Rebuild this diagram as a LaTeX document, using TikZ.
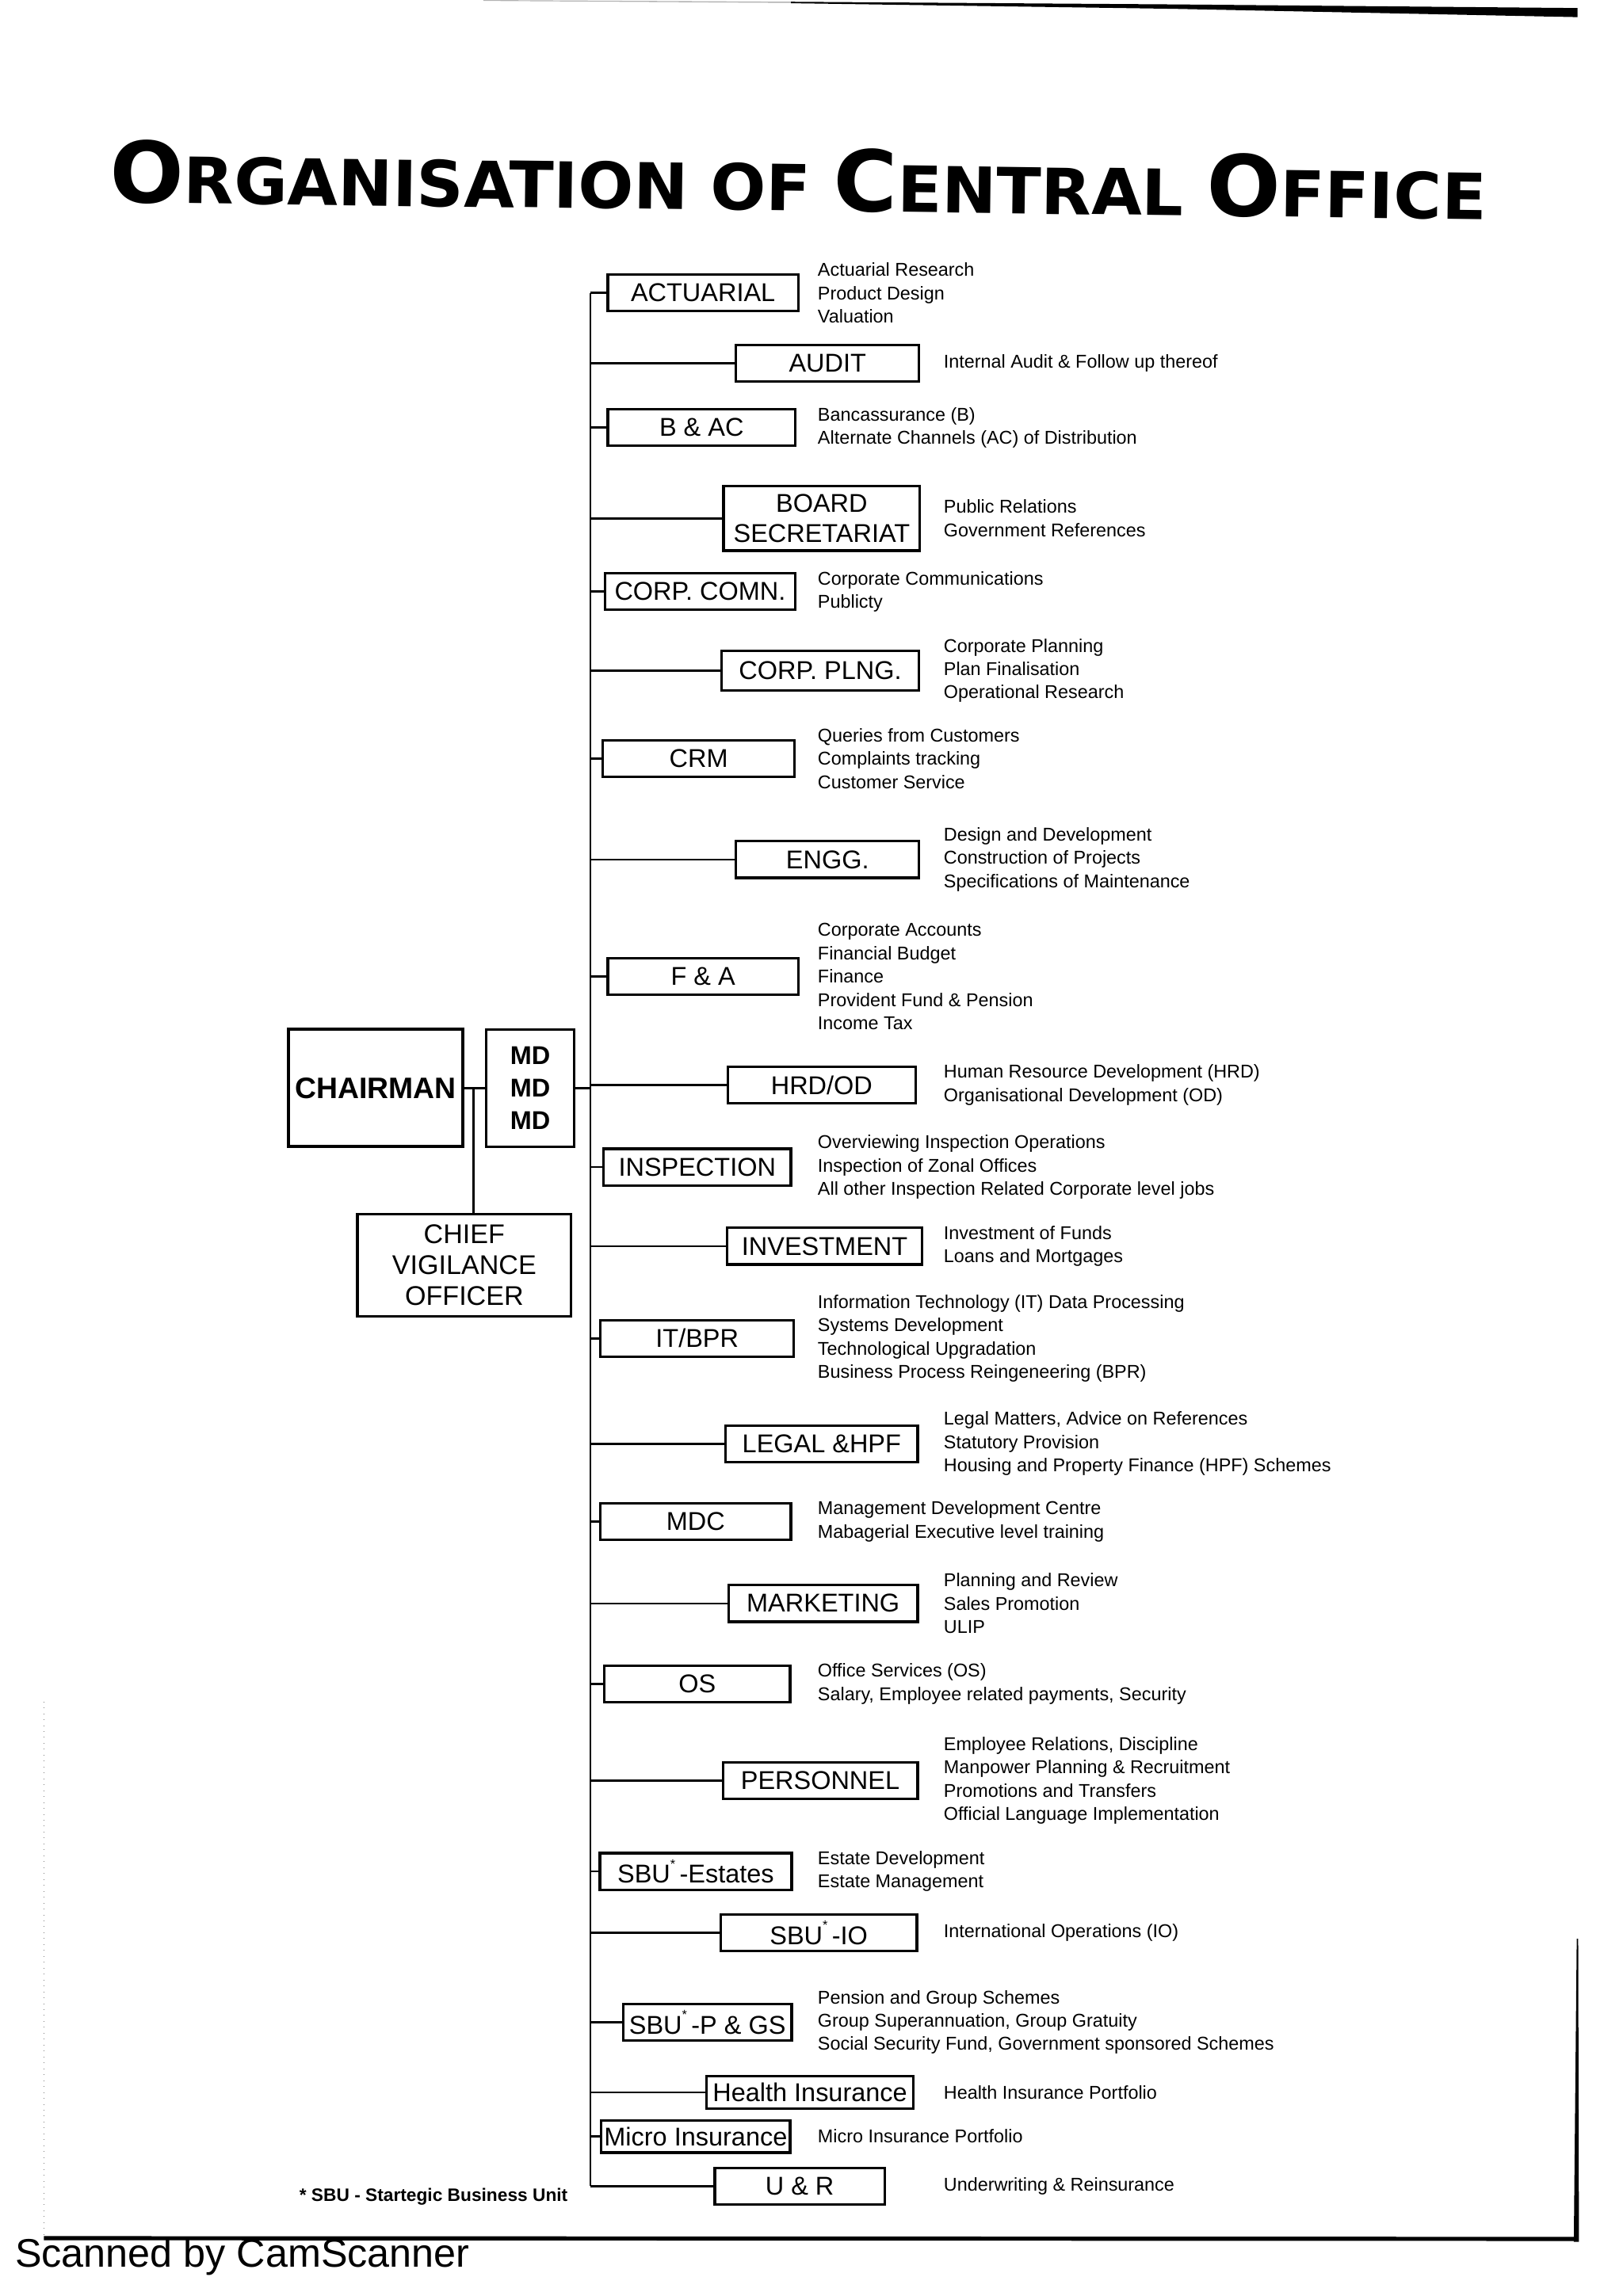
\documentclass[tikz,border=0pt]{standalone}
\usepackage{fontspec}
\setmainfont{Liberation Sans}
\newfontfamily\headfont{DejaVu Sans}
\usetikzlibrary{positioning,calc}

\tikzset{
  dept/.style={draw,line width=1pt,inner sep=1pt,minimum width=2.6cm,minimum height=0.5cm,
    font=\fontsize{10}{11}\selectfont},
  duties/.style={anchor=west,align=left,inner sep=0pt,font=\fontsize{7.2}{9.07}\selectfont},
  wire/.style={line width=0.8pt},
}
\newcommand{\bigL}[1]{{\fontsize{30}{30}\selectfont #1}}
\newcommand{\smallL}[1]{{\fontsize{22.5}{30}\selectfont #1}}
\newcommand{\sbu}{SBU\raisebox{1.1ex}{\fontsize{5}{5}\selectfont *}\,-}

\begin{document}
\begin{tikzpicture}[x=0.02cm,y=-0.02cm]
  \useasboundingbox (0,0) rectangle (1108,1568);
  % scanned page edges
  \fill[gray!60] (330,0) -- (540,1.2) -- (540,2) -- (330,0.6) -- cycle;
  \fill (540,1.2) -- (800,3) -- (1077,5.5) -- (1077,11.7) -- (800,6) -- (540,2.2) -- cycle;
  \draw[line width=0.3pt,gray,dotted] (30,1162) -- (30,1527);
  \fill (1076.5,1324) -- (1077.5,1324) -- (1078,1531) -- (1074.5,1531) -- cycle;
  \draw[line width=1.6pt] (30,1528.5) -- (1077,1529);
  \node[anchor=base west,inner sep=0pt,font=\fontsize{15.5}{15.5}\selectfont] (scan) at (10,1548) {Scanned by CamScanner};

  % title
  \node[rotate=-0.7,inner sep=0pt] (title) at (545,123)
    {\resizebox{18.8cm}{0.86cm}{\headfont\bfseries\bigL{O}\smallL{RGANISATION OF }\bigL{C}\smallL{ENTRAL }\bigL{O}\smallL{FFICE}}};

  % top management
  \node[draw,line width=1.3pt,inner sep=1pt,minimum width=2.38cm,minimum height=1.6cm,
    font=\bfseries\fontsize{11.5}{12}\selectfont] (chairman) at (256.5,743) {CHAIRMAN};
  \node[draw,line width=1pt,minimum width=1.2cm,minimum height=1.6cm,align=center,
    font=\bfseries\fontsize{10}{12.75}\selectfont] (md) at (362,743) {MD\\MD\\MD};
  \node[draw,line width=1pt,minimum width=2.92cm,minimum height=1.4cm,align=center,
    font=\fontsize{10.5}{11.9}\selectfont] (cvo) at (317,864) {CHIEF\\VIGILANCE\\OFFICER};
  \coordinate (split) at ($(chairman.east)!0.44!(md.west)$);
  \draw[wire] (chairman.east) -- (md.west);
  \draw[wire] (split) -- (split |- cvo.north);

  \coordinate (trunk) at (403,0);
  \coordinate (lcol) at (558,0);
  \coordinate (rcol) at (644,0);
  \draw[wire] (md.east) -- (md.east -| trunk);

  % departments
  \node[dept] (actuarial) at (480,200) {ACTUARIAL};
  \node[duties] (actuarial-t) at (actuarial.east -| lcol) {Actuarial Research\\Product Design\\Valuation};
  \node[dept,minimum width=2.5cm] (audit) at (565,248) {AUDIT};
  \node[duties] (audit-t) at (audit.east -| rcol) {Internal Audit \& Follow up thereof};
  \node[dept,minimum width=2.56cm] (bac) at (479,292) {B \& AC};
  \node[duties] (bac-t) at (bac.east -| lcol) {Bancassurance (B)\\Alternate Channels (AC) of Distribution};
  \node[dept,minimum width=2.68cm,minimum height=0.88cm,align=center,font=\fontsize{10}{11.5}\selectfont] (board) at (561,354) {BOARD\\SECRETARIAT};
  \node[duties] (board-t) at (board.east -| rcol) {Public Relations\\Government References};
  \node[dept] (comn) at (478,404) {CORP. COMN.};
  \node[duties] (comn-t) at (comn.east -| lcol) {Corporate Communications\\Publicty};
  \node[dept,minimum width=2.7cm,minimum height=0.54cm] (plng) at (560,458) {CORP. PLNG.};
  \node[duties] (plng-t) at (plng.east -| rcol) {Corporate Planning\\Plan Finalisation\\Operational Research};
  \node[dept,minimum width=2.62cm] (crm) at (477,518) {CRM};
  \node[duties] (crm-t) at (crm.east -| lcol) {Queries from Customers\\Complaints tracking\\Customer Service};
  \node[dept,minimum width=2.5cm] (engg) at (565,587) {ENGG.};
  \node[duties] (engg-t) at (engg.east -| rcol) {Design and Development\\Construction of Projects\\Specifications of Maintenance};
  \node[dept] (fa) at (480,667) {F \& A};
  \node[duties] (fa-t) at (fa.east -| lcol) {Corporate Accounts\\Financial Budget\\Finance\\Provident Fund \& Pension\\Income Tax};
  \node[dept,minimum width=2.56cm] (hrd) at (561,741) {HRD/OD};
  \node[duties] (hrd-t) at (hrd.east -| rcol) {Human Resource Development (HRD)\\Organisational Development (OD)};
  \node[dept,minimum width=2.56cm] (inspection) at (476,797) {INSPECTION};
  \node[duties] (inspection-t) at (inspection.east -| lcol) {Overviewing Inspection Operations\\Inspection of Zonal Offices\\All other Inspection Related Corporate level jobs};
  \node[dept,minimum width=2.66cm] (investment) at (563,851) {INVESTMENT};
  \node[duties] (investment-t) at (investment.east -| rcol) {Investment of Funds\\Loans and Mortgages};
  \node[dept,minimum width=2.64cm] (itbpr) at (476,914) {IT/BPR};
  \node[duties] (itbpr-t) at (itbpr.east -| lcol) {Information Technology (IT) Data Processing\\Systems Development\\Technological Upgradation\\Business Process Reingeneering (BPR)};
  \node[dept,minimum width=2.62cm] (legal) at (561,986) {LEGAL \&HPF};
  \node[duties] (legal-t) at (legal.east -| rcol) {Legal Matters, Advice on References\\Statutory Provision\\Housing and Property Finance (HPF) Schemes};
  \node[dept] (mdc) at (475,1039) {MDC};
  \node[duties] (mdc-t) at (mdc.east -| lcol) {Management Development Centre\\Mabagerial Executive level training};
  \node[dept,minimum width=2.58cm] (marketing) at (562,1095) {MARKETING};
  \node[duties] (marketing-t) at (marketing.east -| rcol) {Planning and Review\\Sales Promotion\\ULIP};
  \node[dept,minimum width=2.54cm] (os) at (476,1150) {OS};
  \node[duties] (os-t) at (os.east -| lcol) {Office Services (OS)\\Salary, Employee related payments, Security};
  \node[dept,minimum width=2.66cm] (personnel) at (560,1216) {PERSONNEL};
  \node[duties] (personnel-t) at (personnel.east -| rcol) {Employee Relations, Discipline\\Manpower Planning \& Recruitment\\Promotions and Transfers\\Official Language Implementation};
  \node[dept,minimum width=2.62cm] (estates) at (475,1278) {\sbu Estates};
  \node[duties] (estates-t) at (estates.east -| lcol) {Estate Development\\Estate Management};
  \node[dept,minimum width=2.68cm] (io) at (559,1320) {\sbu IO};
  \node[duties] (io-t) at (io.east -| rcol) {International Operations (IO)};
  \node[dept,minimum width=2.3cm] (pgs) at (483,1381) {\sbu P \& GS};
  \node[duties] (pgs-t) at (pgs.east -| lcol) {Pension and Group Schemes\\Group Superannuation, Group Gratuity\\Social Security Fund, Government sponsored Schemes};
  \node[dept,minimum width=2.82cm,minimum height=0.44cm] (health) at (553,1429) {Health Insurance};
  \node[duties] (health-t) at (health.east -| rcol) {Health Insurance Portfolio};
  \node[dept,minimum width=2.58cm,minimum height=0.44cm] (micro) at (475,1459) {Micro Insurance};
  \node[duties] (micro-t) at (micro.east -| lcol) {Micro Insurance Portfolio};
  \node[dept,minimum width=2.32cm] (ur) at (546,1493) {U \& R};
  \node[duties] (ur-t) at (ur.east -| rcol) {Underwriting \& Reinsurance};

  % connectors
  \draw[wire] (actuarial.west -| trunk) -- (ur.west -| trunk);
  \foreach \d in {actuarial,audit,bac,board,comn,plng,crm,engg,fa,hrd,inspection,investment,
      itbpr,legal,mdc,marketing,os,personnel,estates,io,pgs,health,micro,ur}
    \draw[wire] (\d.west) -- (\d.west -| trunk);

  \node[inner sep=0pt,font=\bfseries\fontsize{7}{8}\selectfont] (note) at (296,1500) {* SBU - Startegic Business Unit};
\end{tikzpicture}
\end{document}
